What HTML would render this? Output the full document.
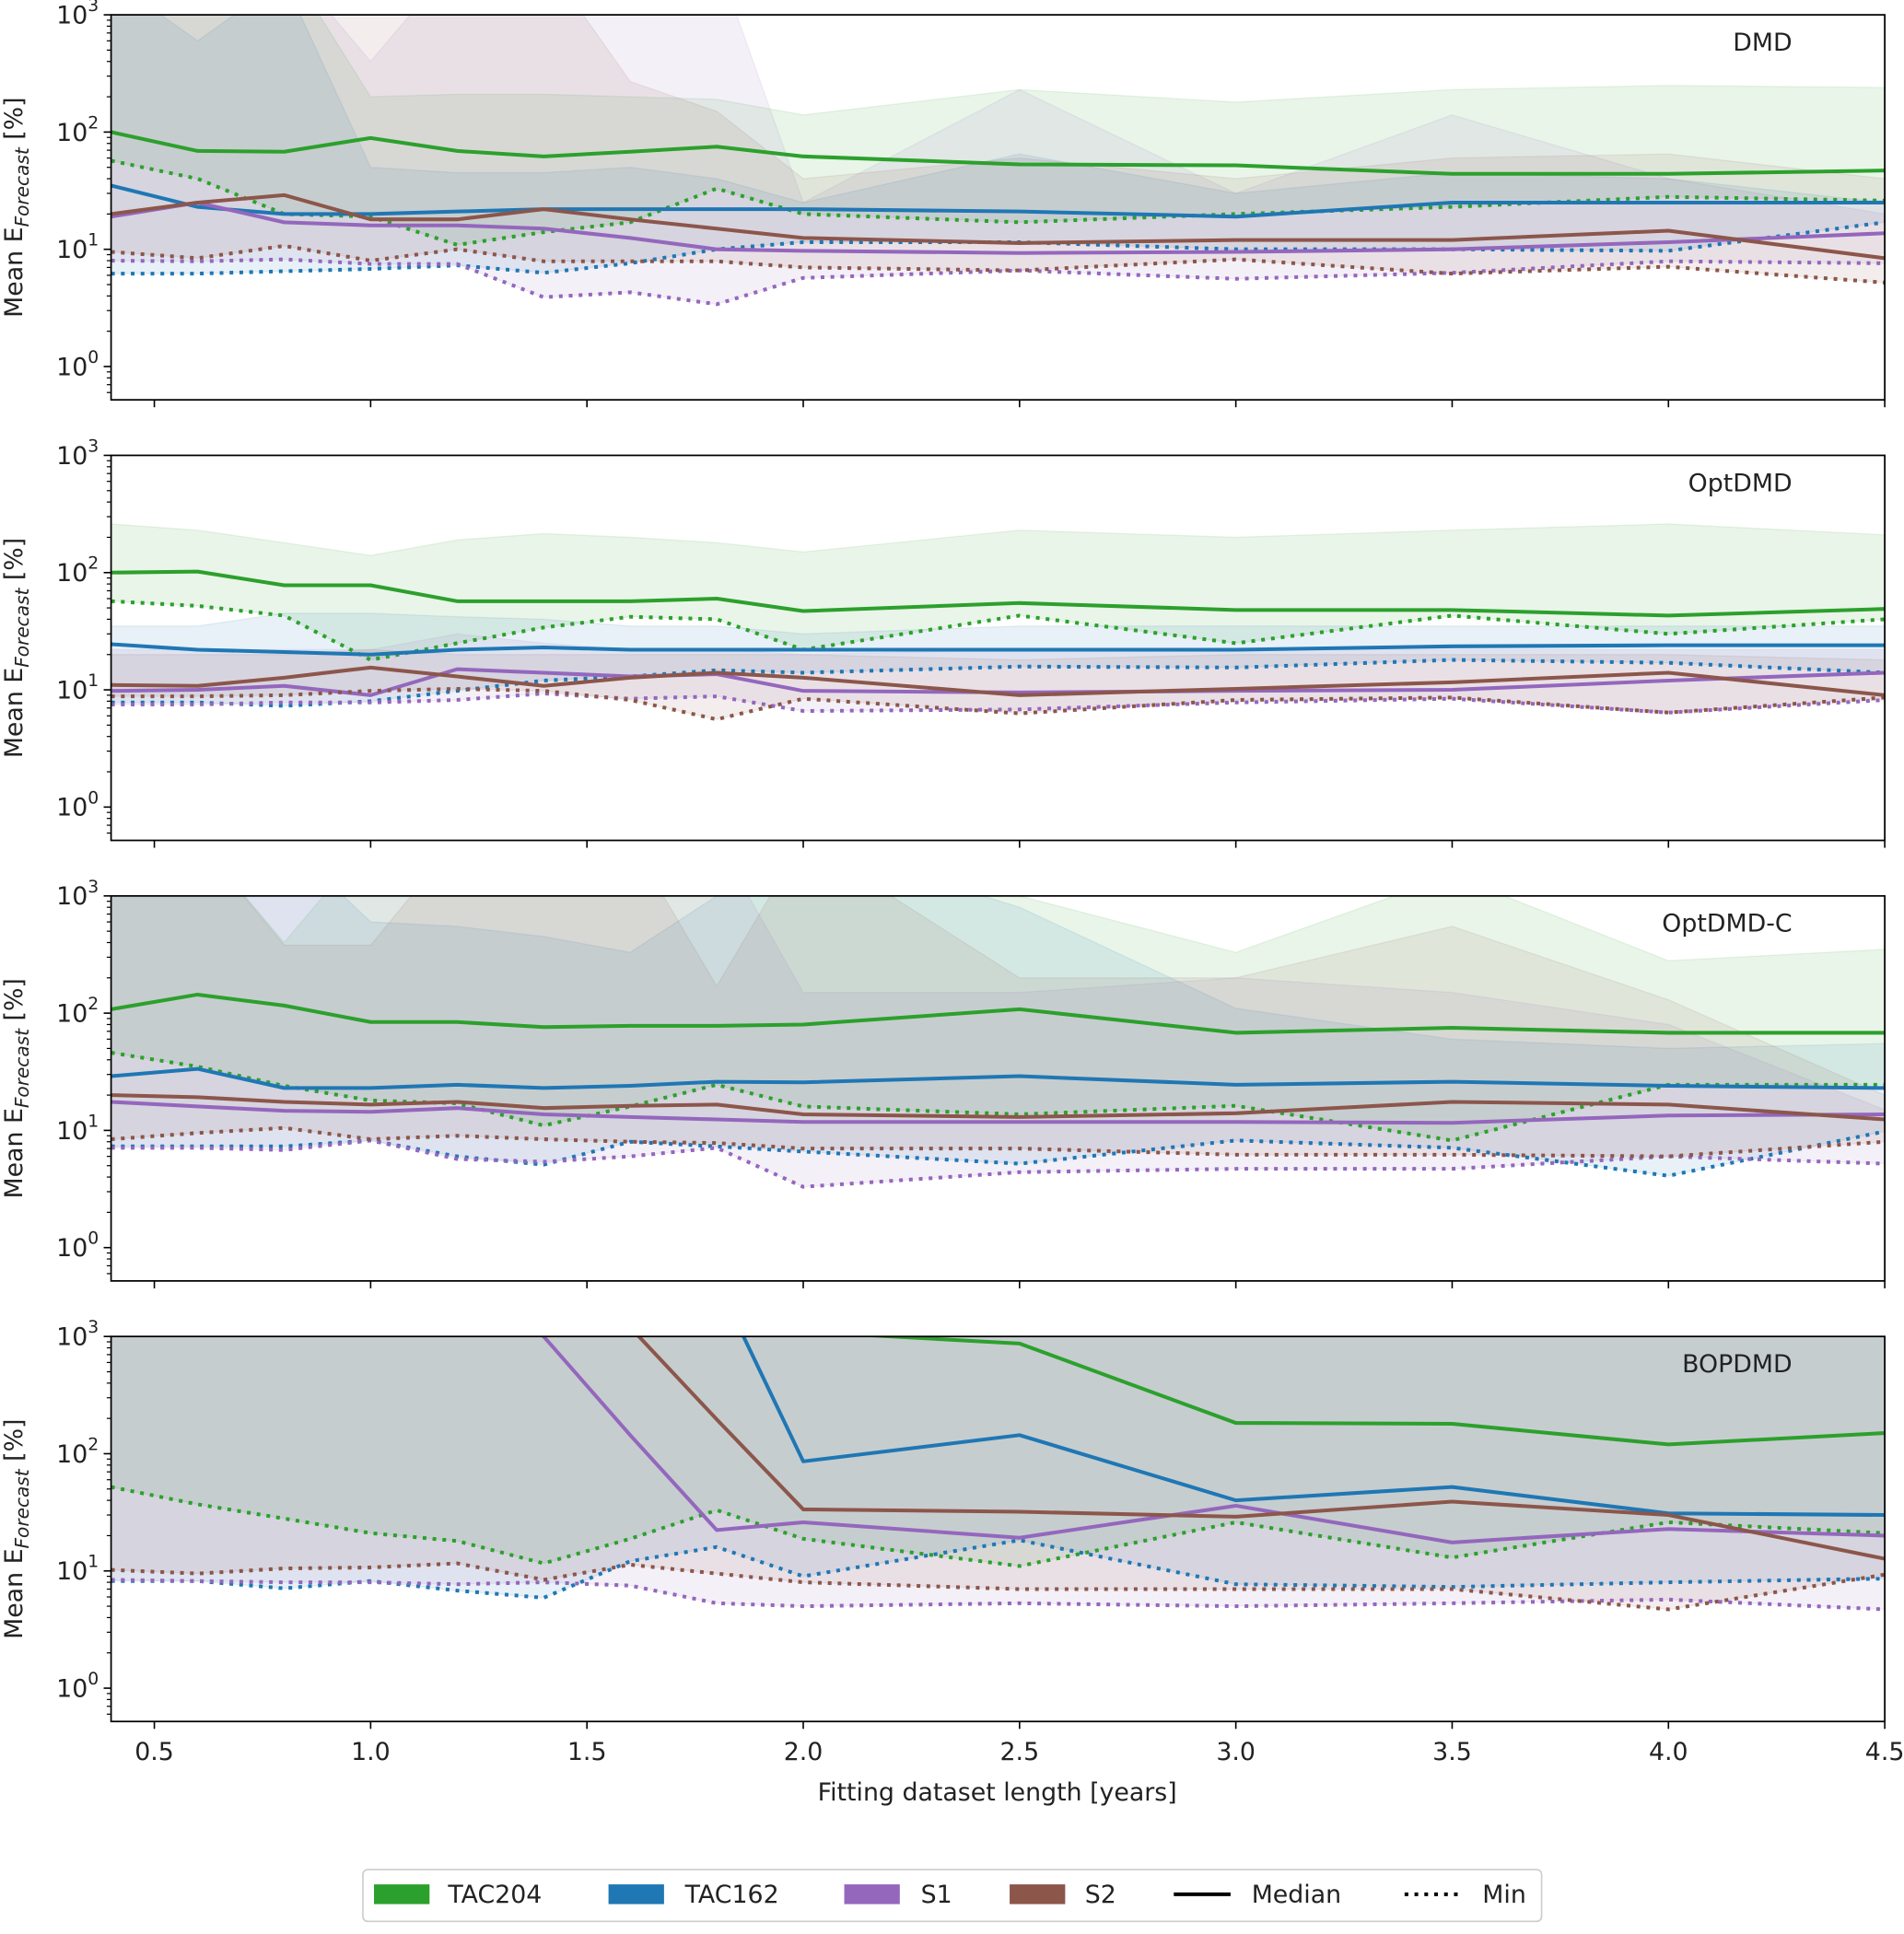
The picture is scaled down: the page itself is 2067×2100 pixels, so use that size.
<!DOCTYPE html>
<html><head><meta charset="utf-8"><style>
html,body{margin:0;padding:0;background:#fff;}
svg{display:block;font-family:"DejaVu Sans","Liberation Sans",sans-serif;}
</style></head><body>
<svg id="chart" width="2067" height="2100" viewBox="0 0 1542.6 1567.2" xmlns="http://www.w3.org/2000/svg"></svg>
<script>
const xValues = [0.4,0.6,0.8,1.0,1.2,1.4,1.6,1.8,2.0,2.5,3.0,3.5,4.0,4.5];
const xTicks = [0.5,1.0,1.5,2.0,2.5,3.0,3.5,4.0,4.5];
const xTickLabels = ["0.5","1.0","1.5","2.0","2.5","3.0","3.5","4.0","4.5"];
const yTickExps = [0,1,2,3];
const panelTitles = ["DMD","OptDMD","OptDMD-C","BOPDMD"];
const seriesNames = ["TAC204","TAC162","S1","S2"];

// DMD
const dmd_tac204_med = [100,69,68,89,69,62,68,75,62,53,52,44,44,47];
const dmd_tac204_min = [57,40,20,19,10.9,14,17,33,20,17,20,23,28,26];
const dmd_tac204_max = [3000,3000,3000,200,210,210,200,190,140,230,180,230,250,240];
const dmd_tac162_med = [35,23,20,20,21,22,22,22,22,21,19,25,25,25];
const dmd_tac162_min = [6.2,6.2,6.5,6.8,7.3,6.3,7.6,10,11.5,11.5,10,10,9.7,17];
const dmd_tac162_max = [2000,600,2000,50,45,45,50,40,25,65,30,45,40,25];
const dmd_s1_med = [19,25,17,16,16,15,12.5,10,9.7,9.3,9.5,10,11.5,13.7];
const dmd_s1_min = [8,7.9,8.2,7.5,7.5,3.9,4.3,3.4,5.7,6.6,5.6,6.3,7.9,7.6];
const dmd_s1_max = [3000,3000,3000,400,3000,3000,3000,3000,25,230,30,140,40,20];
const dmd_s2_med = [20,25,29,18,18,22,18,15,12.5,11.3,12,12,14.4,8.4];
const dmd_s2_min = [9.5,8.4,10.7,8,10,7.9,7.9,7.9,7,6.6,8.2,6.2,7.1,5.2];
const dmd_s2_max = [3000,3000,3000,3000,3000,3000,270,150,40,60,40,60,65,40];
// OptDMD
const opt_tac204_med = [100,102,78,78,57,57,57,60,47,55,48,48,43,49];
const opt_tac204_min = [57,52,43,18,25,34,42,40,22,43,25,43,30,40];
const opt_tac204_max = [260,230,180,140,190,215,200,180,150,230,200,230,260,210];
const opt_tac162_med = [24.5,22,21,20,22,23,22,22,22,22,22,23.5,24,24];
const opt_tac162_min = [7.8,7.8,7.3,8,9.8,12,13,14.7,14,15.8,15.5,18,17,14];
const opt_tac162_max = [35,35,45,45,42,40,35,35,30,35,35,35,35,35];
const opt_s1_med = [9.8,10,10.8,9,15,14,13,13.6,9.8,9.5,9.8,10,12,14];
const opt_s1_min = [7.5,7.5,7.8,7.8,8.2,9.3,8.4,8.8,6.6,6.8,7.8,8.4,6.4,8.2];
const opt_s1_max = [22,22,22,22,30,25,22,22,20,22,22,22,22,22];
const opt_s2_med = [11,10.8,12.7,15.5,13,10.8,12.7,14,12.7,9,10.2,11.6,14,9];
const opt_s2_min = [8.8,8.8,9,9.8,10.2,9.8,8.2,5.6,8.4,6.3,8.2,8.6,6.4,8.6];
const opt_s2_max = [20,20,20,22,20,20,20,20,20,18,20,20,20,18];
// OptDMD-C
const optc_tac204_med = [108,144,116,84,84,76,78,78,80,108,68,75,68,68];
const optc_tac204_min = [46,35,24,18,17,11,16,24.5,16,13.7,16.2,8.2,24.5,24.5];
const optc_tac204_max = [3000,3000,400,3000,3000,3000,3000,3000,3000,1000,330,1500,280,350];
const optc_tac162_med = [29,33.5,23,23,24.5,23,24,26,25.7,29,24.5,26,24,23];
const optc_tac162_min = [7.3,7.3,7.3,8.2,6,5.1,8,7.3,6.6,5.2,8.2,7.1,4.1,9.8];
const optc_tac162_max = [3000,3000,3000,600,550,450,330,1000,3000,800,110,60,50,55];
const optc_s1_med = [17.5,16,14.7,14.4,15.5,13.7,13,12.4,11.8,11.8,11.8,11.6,13.4,13.7];
const optc_s1_min = [7.1,7.1,6.8,8.2,5.7,5.4,6,7.1,3.3,4.4,4.7,4.7,6,5.2];
const optc_s1_max = [3000,3000,3000,3000,3000,3000,3000,3000,150,150,200,150,80,15];
const optc_s2_med = [20,19.2,17.5,16.6,17.5,15.5,16.2,16.6,13.7,13,14,17.5,16.6,12.4];
const optc_s2_min = [8.4,9.5,10.5,8.4,9,8.4,8,7.8,7,7,6.2,6.2,6,8];
const optc_s2_max = [3000,3000,380,380,3000,3000,3000,170,3000,200,200,550,130,20];
// BOPDMD
const bop_tac204_med = [3000,3000,3000,3000,3000,3000,3000,3000,1100,870,183,180,120,150];
const bop_tac204_min = [52,37,28,21,18,11.6,18.8,33,18.8,11,26,13,26,21];
const bop_tac204_max = [3000,3000,3000,3000,3000,3000,3000,3000,3000,3000,3000,3000,3000,3000];
const bop_tac162_med = [3000,3000,3000,3000,3000,3000,3000,3000,86,144,40,52,31,30];
const bop_tac162_min = [8.2,8.2,7.1,8.2,6.8,5.9,12.1,16,9,18.3,7.7,7.3,8,8.6];
const bop_tac162_max = [3000,3000,3000,3000,3000,3000,3000,3000,3000,3000,3000,3000,3000,3000];
const bop_s1_med = [3000,3000,3000,3000,3000,1000,144,22.3,26,19.2,36,17.5,22.8,20];
const bop_s1_min = [8.4,8.2,8,8,7.7,8,7.5,5.3,5,5.3,5,5.3,5.7,4.7];
const bop_s1_max = [3000,3000,3000,3000,3000,3000,3000,3000,3000,3000,3000,3000,3000,3000];
const bop_s2_med = [3000,3000,3000,3000,3000,3000,1200,196,33.5,32,29,39,30,12.7];
const bop_s2_min = [10.2,9.5,10.5,10.7,11.6,8.4,11.3,9.5,8,7,7,7,4.7,9.3];
const bop_s2_max = [3000,3000,3000,3000,3000,3000,3000,3000,3000,3000,3000,3000,3000,3000];

const colors = ["#2ca02c","#1f77b4","#9467bd","#8c564b"];
const panels = [
  {title:panelTitles[0], top:12, series:[[dmd_tac204_med,dmd_tac204_min,dmd_tac204_max],[dmd_tac162_med,dmd_tac162_min,dmd_tac162_max],[dmd_s1_med,dmd_s1_min,dmd_s1_max],[dmd_s2_med,dmd_s2_min,dmd_s2_max]]},
  {title:panelTitles[1], top:369, series:[[opt_tac204_med,opt_tac204_min,opt_tac204_max],[opt_tac162_med,opt_tac162_min,opt_tac162_max],[opt_s1_med,opt_s1_min,opt_s1_max],[opt_s2_med,opt_s2_min,opt_s2_max]]},
  {title:panelTitles[2], top:726, series:[[optc_tac204_med,optc_tac204_min,optc_tac204_max],[optc_tac162_med,optc_tac162_min,optc_tac162_max],[optc_s1_med,optc_s1_min,optc_s1_max],[optc_s2_med,optc_s2_min,optc_s2_max]]},
  {title:panelTitles[3], top:1083, series:[[bop_tac204_med,bop_tac204_min,bop_tac204_max],[bop_tac162_med,bop_tac162_min,bop_tac162_max],[bop_s1_med,bop_s1_min,bop_s1_max],[bop_s2_med,bop_s2_min,bop_s2_max]]}
];

const NS = "http://www.w3.org/2000/svg";
const svg = document.getElementById("chart");
const L = 90, R = 1527, H = 312, DEC = 95;
function xScale(v){ return L + (v - 0.4) / (4.5 - 0.4) * (R - L); }
function yScale(top, v){ return top + (3 - Math.log10(v)) * DEC; }
function mk(tag, attrs, parent){
  const e = document.createElementNS(NS, tag);
  for (const k in attrs) e.setAttribute(k, attrs[k]);
  (parent || svg).appendChild(e);
  return e;
}

panels.forEach((p, pi) => {
  const g = mk("g", {});
  
  
  const cp = mk("clipPath", {id: "clip" + pi}, g);
  mk("rect", {x: L, y: p.top, width: R - L, height: H}, cp);
  const plot = mk("g", {"clip-path": "url(#clip" + pi + ")"}, g);
  p.series.forEach((s, si) => {
    const up = xValues.map((x, i) => xScale(x) + "," + yScale(p.top, s[2][i]));
    const lo = xValues.map((x, i) => xScale(x) + "," + yScale(p.top, s[1][i])).reverse();
    const band = mk("polygon", {points: up.concat(lo).join(" "), fill: colors[si], "fill-opacity": 0.1, stroke: colors[si], "stroke-opacity": 0.1, "stroke-width": 1}, plot);
    
    
  });
  p.series.forEach((s, si) => {
    const med = mk("polyline", {points: xValues.map((x, i) => xScale(x) + "," + yScale(p.top, s[0][i])).join(" "), fill: "none", stroke: colors[si], "stroke-width": 3, "stroke-linejoin": "round"}, plot);
    
    
    const mn = mk("polyline", {points: xValues.map((x, i) => xScale(x) + "," + yScale(p.top, s[1][i])).join(" "), fill: "none", stroke: colors[si], "stroke-width": 3, "stroke-dasharray": "3 5"}, plot);
    
    
  });
  const fr = mk("rect", {x: L, y: p.top, width: R - L, height: H, fill: "none", stroke: "#000", "stroke-width": 1.3}, g);
  
  
  yTickExps.forEach(e => {
    const y = yScale(p.top, Math.pow(10, e));
    mk("line", {x1: L - 6, x2: L, y1: y, y2: y, stroke: "#000", "stroke-width": 1.2}, g);
    const t = mk("text", {x: L - 10, y: y + 7, "text-anchor": "end", "font-size": 20, fill: "#222"}, g);
    
    
    t.textContent = "10";
    const sup = mk("tspan", {dy: -10, "font-size": 14}, t);
    sup.textContent = String(e);
  });
  for (let e = -1; e < 3; e++) {
    for (let m = 2; m <= 9; m++) {
      const v = m * Math.pow(10, e);
      const y = yScale(p.top, v);
      if (y > p.top + H || y < p.top) continue;
      mk("line", {x1: L - 3.5, x2: L, y1: y, y2: y, stroke: "#000", "stroke-width": 0.9}, g);
    }
  }
  xTicks.forEach((xv, i) => {
    const x = xScale(xv);
    mk("line", {x1: x, x2: x, y1: p.top + H, y2: p.top + H + 6, stroke: "#000", "stroke-width": 1.2}, g);
    if (pi === 3) {
      const t = mk("text", {x: x, y: p.top + H + 31, "text-anchor": "middle", "font-size": 20, fill: "#222"}, g);
      
      
      t.textContent = xTickLabels[i];
    }
  });
  const tt = mk("text", {x: 1452, y: p.top + 29, "text-anchor": "end", "font-size": 20, fill: "#222"}, g);
  
  
  tt.textContent = p.title;
  const yl = mk("text", {x: 0, y: 0, transform: "translate(18," + (p.top + 156) + ") rotate(-90)", "text-anchor": "middle", "font-size": 20, fill: "#222"}, g);
  
  
  yl.textContent = "Mean E";
  const sub = mk("tspan", {dy: 5, "font-size": 15, "font-style": "italic"}, yl);
  sub.textContent = "Forecast";
  const rest = mk("tspan", {dy: -5}, yl);
  rest.textContent = " [%]";
});

const xl = mk("text", {x: 808, y: 1459, "text-anchor": "middle", "font-size": 20, fill: "#222"});


xl.textContent = "Fitting dataset length [years]";

const lg = mk("g", {});


mk("rect", {x: 294, y: 1515, width: 955, height: 42, rx: 4, fill: "#fff", stroke: "#ccc", "stroke-width": 1.2}, lg);
const patchX = [303, 493, 684, 818];
const labelX = [363, 555, 746, 879];
seriesNames.forEach((n, i) => {
  const r = mk("rect", {x: patchX[i], y: 1527, width: 45, height: 16, fill: colors[i]}, lg);
  
  
  const t = mk("text", {x: labelX[i], y: 1542, "font-size": 20, fill: "#222"}, lg);
  
  
  t.textContent = n;
});
mk("line", {x1: 951, x2: 997, y1: 1535, y2: 1535, stroke: "#000", "stroke-width": 3}, lg);
const tm = mk("text", {x: 1014, y: 1542, "font-size": 20, fill: "#222"}, lg);


tm.textContent = "Median";
mk("line", {x1: 1138, x2: 1184, y1: 1535, y2: 1535, stroke: "#000", "stroke-width": 3, "stroke-dasharray": "3 5"}, lg);
const tn = mk("text", {x: 1201, y: 1542, "font-size": 20, fill: "#222"}, lg);


tn.textContent = "Min";
</script>
</body></html>
